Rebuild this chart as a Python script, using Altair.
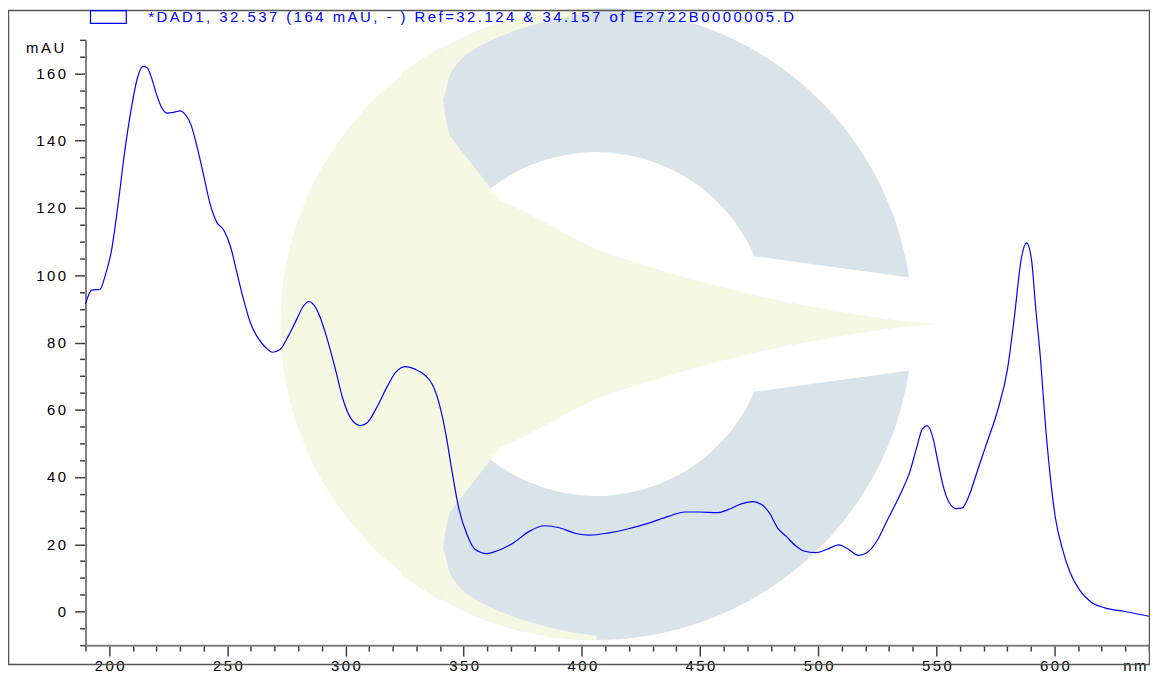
import altair as alt
import pandas as pd

# ---------------- data ----------------
wavelength_nm = [190, 192.6, 196.1, 198.2, 201, 203.8, 206.6, 209.4, 211.9, 214.3, 216.1, 217.8,
                 219.9, 222.2, 224.5, 227.6, 230.1, 232.5, 234.6, 237.3, 239.9, 242.7, 245.5,
                 248.6, 251.4, 254.1, 256.9, 259.8, 262.5, 266.1, 269.2, 272.3, 275.8, 279.3,
                 282.1, 284.5, 286.6, 289.1, 291.9, 295.4, 298.9, 302.4, 306.3, 309.4, 313.6,
                 317.8, 321.3, 325.5, 329.7, 333.9, 336.7, 339.5, 342.3, 345.1, 347.9, 351.4,
                 354.8, 359.8, 364, 371, 377.9, 384.2, 390.5, 397.5, 403.1, 411.5, 418.5,
                 428.3, 436.7, 443.7, 449.3, 457.7, 461.9, 467.5, 472.3, 475.9, 479.4, 482.8,
                 486.4, 490.6, 494, 498.9, 503.8, 508.7, 512.2, 517.1, 520.6, 524.8, 529,
                 535.3, 538.8, 541.6, 544.1, 546.1, 548.3, 550.7, 552.8, 555.6, 558.4, 560.9,
                 564, 566.8, 571, 575.9, 580.1, 582.9, 586.1, 588.2, 590.3, 592, 594.1, 596.2,
                 598.3, 600.4, 603.2, 606.6, 610.8, 615.7, 621.3, 629.7, 640]
absorbance_mau = [91.5, 95.6, 95.8, 99.6, 107.4, 121.2, 136.9, 149.7, 158.5, 162.1, 161.7, 159,
                  154.1, 149.9, 148.2, 148.5, 148.9, 147.5, 144.8, 137.9, 130, 121.2, 115.8,
                  113.3, 108.4, 100.6, 92.7, 85.8, 81.9, 78.6, 77.1, 77.9, 81.9, 86.8,
                  90.7, 92.2, 91.2, 87.8, 81.9, 73, 63.2, 57.3, 55.3, 56.3, 61.2,
                  67.1, 71.2, 72.8, 72, 70.1, 67.6, 62.2, 53.4, 41.6, 30.8, 22.9,
                  18.5, 17.2, 18, 20.4, 23.9, 25.5, 24.9, 23.2, 22.7, 23.4, 24.4,
                  26.3, 28.3, 29.6, 29.6, 29.4, 30.3, 32, 32.7, 31.9, 29.3, 24.9,
                  22.4, 19.5, 18, 17.5, 18.5, 19.8, 18.8, 16.7, 17.5, 20.9, 26.8,
                  35.7, 41.6, 48.5, 54.3, 55.3, 52.4, 44.5, 37.6, 32.2, 30.6, 30.8,
                  34.7, 40.6, 49.4, 59.7, 72, 86.8, 105.5, 109.6, 104.5, 90.7, 75, 55.3,
                  39.6, 27.8, 19, 11.6, 6.2, 2.7, 1.1, 0, -1.4]
series_label = "*DAD1, 32.537 (164 mAU, - ) Ref=32.124 & 34.157 of E2722B0000005.D"

x_domain = [190, 640]
y_domain = [-10, 170]
x_tick_values = list(range(190, 641, 10))
y_tick_values = list(range(-10, 171, 5))

# background watermark logo outline, in the chart's data units
logo_center_nm = [406.2]
logo_center_mau = [85.5]
wedge_nm = [323.7, 332.6, 340.6, 341.4, 346.4, 359.9, 376.7, 389.3, 406.2, 427.2, 448.2,
            473.5, 498.7, 523.9, 549.2]
wedge_top_mau = [160.2, 164.4, 167.6, 151.7, 137.5, 125.1, 118.6, 113.8, 107.9, 102.9, 98.5,
                 94.0, 90.5, 87.5, 85.5]
wedge_bottom_mau = [10.7, 6.6, 3.4, 19.3, 33.5, 45.9, 52.4, 57.2, 63.1, 68.1, 72.5,
                    77.0, 80.5, 83.5, 85.5]
crescent_nm = [340.6, 341.4, 343.9, 347.3, 355.7, 364.1, 380.9, 397.8, 406.2]
upper_crescent_outer = [167.6, 167.7, 168.7, 169.9, 172.5, 174.7, 177.8, 179.3, 179.5]
upper_crescent_inner = [167.6, 152.9, 159.1, 162.9, 167.6, 170.6, 174.7, 177.4, 178.3]
lower_crescent_outer = [3.4, 3.3, 2.3, 1.1, -1.5, -3.7, -6.8, -8.3, -8.5]
lower_crescent_inner = [3.4, 18.1, 11.9, 8.1, 3.4, 0.4, -3.7, -6.4, -7.3]
slot_nm = [473.5, 553.4]
slot_top_mau = [105.6, 97.9]
slot_bottom_mau = [65.4, 73.1]

# ---------------- styling ----------------
FONT = "Liberation Sans"
SP = "\u2006"
LINE_BLUE = "#0000ff"
LOGO_BLUE = "#d9e3ea"
LOGO_YELLOW = "#f5f8e3"
spaced = f"join(split(datum.label, ''), '{SP}')"

spec_df = pd.DataFrame({"nm": wavelength_nm, "mau": absorbance_mau, "series": series_label})
center_df = pd.DataFrame({"nm": logo_center_nm, "mau": logo_center_mau})
wedge_df = pd.DataFrame({"nm": wedge_nm, "mau": wedge_top_mau, "bottom": wedge_bottom_mau})
upper_df = pd.DataFrame({"nm": crescent_nm, "mau": upper_crescent_outer, "bottom": upper_crescent_inner})
lower_df = pd.DataFrame({"nm": crescent_nm, "mau": lower_crescent_inner, "bottom": lower_crescent_outer})
slot_df = pd.DataFrame({"nm": slot_nm, "mau": slot_top_mau, "bottom": slot_bottom_mau})

xs = alt.Scale(domain=x_domain, nice=False, zero=False)
ys = alt.Scale(domain=y_domain, nice=False, zero=False)

x_axis = alt.Axis(
    values=x_tick_values,
    labelExpr=f"datum.value % 50 === 0 ? {spaced} : ''",
    tickSize={"condition": {"test": "datum.value % 50 === 0", "value": 11}, "value": 6},
    labelPadding=3,
    labelFont=FONT, labelFontSize=15, labelColor="#000000",
    domainColor="#7f7f7f", domainWidth=2, tickColor="#404040", tickWidth=1.5,
    grid=False, labelFlush=False, labelOverlap=False,
    title="n" + SP + "m", titleFont=FONT, titleFontSize=15, titleFontWeight="normal",
    titleColor="#000000", titleAlign="right", titleBaseline="middle", titleAngle=0,
    titleX=1067, titleY=21,
)
y_axis = alt.Axis(
    values=y_tick_values,
    labelExpr=f"datum.value % 20 === 0 ? {spaced} : ''",
    tickSize={"condition": {"test": "datum.value % 20 === 0", "value": 11}, "value": 6},
    labelPadding=9,
    labelFont=FONT, labelFontSize=15, labelColor="#000000",
    domainColor="#7f7f7f", domainWidth=2, tickColor="#404040", tickWidth=1.5,
    grid=False, labelOverlap=False, labelFlush=False,
    title="m" + SP + "A" + SP + "U", titleFont=FONT, titleFontSize=15, titleFontWeight="normal",
    titleColor="#000000", titleAlign="right", titleBaseline="middle", titleAngle=0,
    titleX=-22, titleY=8,
)

X = alt.X("nm:Q", scale=xs, axis=x_axis)
Y = alt.Y("mau:Q", scale=ys, axis=y_axis)

ring = alt.Chart(center_df).mark_arc(
    radius=318, radius2=173, theta=5.620, theta2=10.088, color=LOGO_BLUE
).encode(x=X, y=Y)

slot = alt.Chart(slot_df).mark_area(color="white").encode(x=X, y=Y, y2="bottom:Q")

sector = alt.Chart(center_df).mark_arc(
    radius=318, radius2=0, theta=3.805, theta2=5.620, color=LOGO_YELLOW
).encode(x=X, y=Y)

wedge = alt.Chart(wedge_df).mark_area(color=LOGO_YELLOW, interpolate="monotone").encode(
    x=X, y=Y, y2="bottom:Q"
)
upper_crescent = alt.Chart(upper_df).mark_area(color=LOGO_YELLOW, interpolate="monotone").encode(
    x=X, y=Y, y2="bottom:Q"
)
lower_crescent = alt.Chart(lower_df).mark_area(color=LOGO_YELLOW, interpolate="monotone").encode(
    x=X, y=Y, y2="bottom:Q"
)

frame = alt.Chart(center_df).mark_rect(
    fill="transparent", stroke="#555555", strokeWidth=1.5
).encode(
    x=alt.value(-77.5), x2=alt.value(1070.5), y=alt.value(-29.5), y2=alt.value(628.5)
)

spectrum = alt.Chart(spec_df).mark_line(
    strokeWidth=1.2, interpolate="monotone"
).encode(
    x=X,
    y=Y,
    color=alt.Color(
        "series:N",
        scale=alt.Scale(range=[LINE_BLUE]),
        legend=alt.Legend(
            orient="none", legendX=4, legendY=-42, title=None, padding=0,
            symbolType="M-1,-0.36H1V0.36H-1Z", symbolSize=1296,
            symbolStrokeWidth=1.2, symbolFillColor="transparent", symbolStrokeColor=LINE_BLUE,
            labelFont=FONT, labelFontSize=15, labelColor=LINE_BLUE, labelLimit=0,
            labelOffset=21, labelExpr=spaced,
        ),
    ),
)

chart = alt.layer(
    ring, slot, sector, wedge, upper_crescent, lower_crescent, frame, spectrum
).properties(
    width=1070,
    height=609,
    autosize=alt.AutoSizeParams(type="none"),
    padding={"left": 78, "top": 30, "right": 1, "bottom": 29},
    background="white",
).configure_view(stroke=None)

chart.save("out.html", embed_options={"renderer": "svg", "actions": False})
